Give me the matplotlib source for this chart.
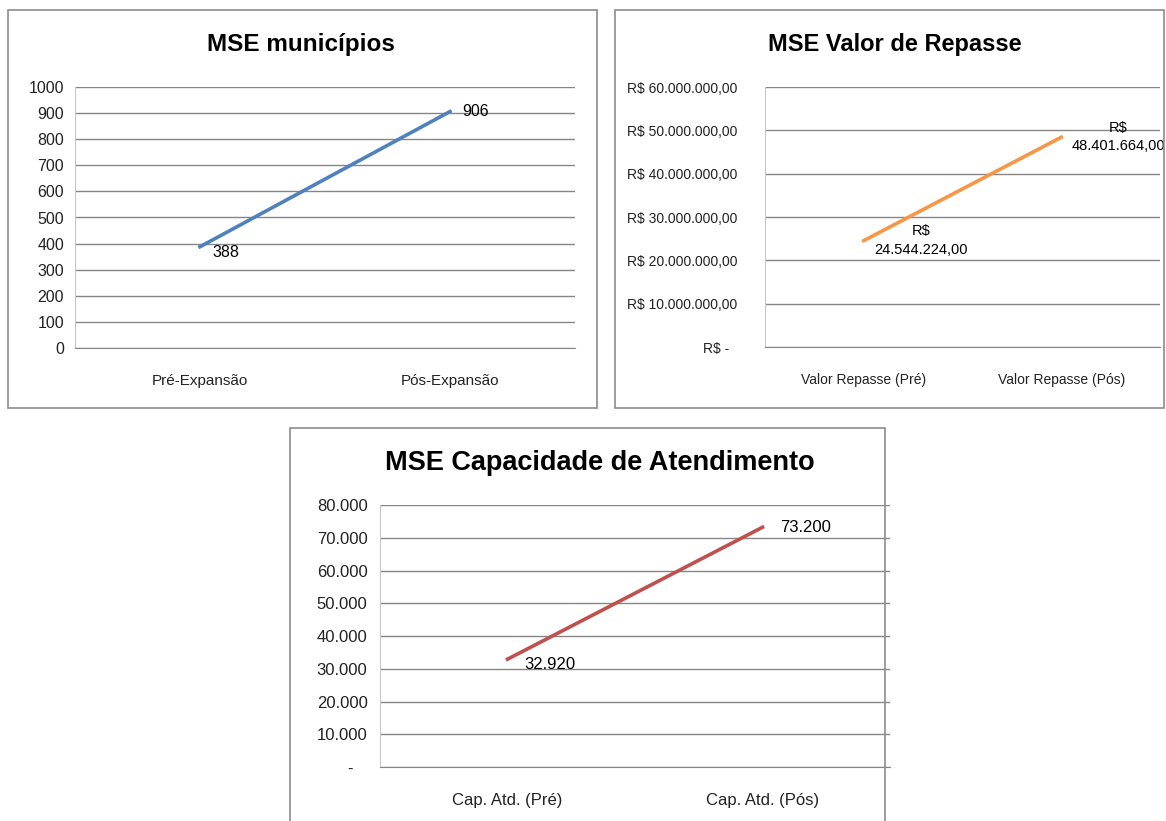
import matplotlib
matplotlib.use('Agg')
import matplotlib.pyplot as plt
from matplotlib.patches import Rectangle

plt.rcParams['font.family'] = ['Liberation Sans', 'DejaVu Sans']

# data
mun_cats = ['Pré-Expansão', 'Pós-Expansão']
mun_vals = [388, 906]
mun_ticks = [0, 100, 200, 300, 400, 500, 600, 700, 800, 900, 1000]

rep_cats = ['Valor Repasse (Pré)', 'Valor Repasse (Pós)']
rep_vals = [24544224.00, 48401664.00]
rep_ticks = [0, 10e6, 20e6, 30e6, 40e6, 50e6, 60e6]

cap_cats = ['Cap. Atd. (Pré)', 'Cap. Atd. (Pós)']
cap_vals = [32920, 73200]
cap_ticks = [0, 10000, 20000, 30000, 40000, 50000, 60000, 70000, 80000]


def br(v, dec=0):
    s = f"{v:,.{dec}f}"
    return s.replace(',', 'X').replace('.', ',').replace('X', '.')


W, H = 1166, 821
fig = plt.figure(figsize=(W / 100, H / 100), dpi=100)


def px(x0, y0, x1, y1):
    return [x0 / W, 1 - y1 / H, (x1 - x0) / W, (y1 - y0) / H]


def border(x0, y0, x1, y1):
    b = px(x0, y0, x1, y1)
    fig.patches.append(Rectangle((b[0], b[1]), b[2], b[3], transform=fig.transFigure,
                                 fill=False, edgecolor='#8c8c8c', lw=1.2))


def setup(ax, ticks, labels, cats, yfs, xfs, ypad):
    ax.set_xlim(-0.5, 1.5)
    ax.set_ylim(ticks[0], ticks[-1])
    ax.set_yticks(ticks)
    ax.set_yticklabels(labels, fontsize=yfs, color='#222222')
    ax.set_xticks([0, 1])
    ax.set_xticklabels(cats, fontsize=xfs, color='#222222')
    ax.tick_params(axis='y', length=0, pad=ypad)
    ax.tick_params(axis='x', length=0, pad=19)
    ax.grid(axis='y', color='#868686', lw=1)
    ax.set_axisbelow(True)
    for s in ['top', 'right']:
        ax.spines[s].set_visible(False)
    ax.spines['left'].set_color('#c8c8c8')
    ax.spines['bottom'].set_color('#868686')


# panel 1
border(8, 10, 597, 408)
ax1 = fig.add_axes(px(75, 87, 575, 348))
setup(ax1, mun_ticks, [str(t) for t in mun_ticks], mun_cats, 11.5, 11, 8)
ax1.plot([0, 1], mun_vals, color='#4F81BD', lw=2.6)
ax1.annotate(str(mun_vals[0]), (0, mun_vals[0]), xytext=(9, -4), textcoords='offset points',
             fontsize=11.5, va='center')
ax1.annotate(str(mun_vals[1]), (1, mun_vals[1]), xytext=(9, 0), textcoords='offset points',
             fontsize=11.5, va='center')
fig.text(301 / W, 1 - 45 / H, 'MSE municípios', fontsize=17.5, fontweight='bold',
         ha='center', va='center')

# panel 2
border(615, 10, 1164, 408)
ax2 = fig.add_axes(px(765, 87, 1160, 347))
rep_labels = ['R$ ' + br(t, 2) for t in rep_ticks]
rep_labels[0] = 'R$ -  '
setup(ax2, rep_ticks, rep_labels, rep_cats, 10, 10, 20)
ax2.plot([0, 1], rep_vals, color='#F79646', lw=2.6)
ax2.annotate('R$\n' + br(rep_vals[0], 2), (0, rep_vals[0]), xytext=(41, 0),
             textcoords='offset points', fontsize=10.5, ha='center', va='center',
             linespacing=1.4)
ax2.annotate('R$\n' + br(rep_vals[1], 2), (1, rep_vals[1]), xytext=(41, 0),
             textcoords='offset points', fontsize=10.5, ha='center', va='center',
             linespacing=1.4)
fig.text(895 / W, 1 - 45 / H, 'MSE Valor de Repasse', fontsize=17, fontweight='bold',
         ha='center', va='center')

# panel 3
border(290, 428, 885, 830)
ax3 = fig.add_axes(px(380, 505, 890, 767))
cap_labels = [br(t) for t in cap_ticks]
cap_labels[0] = '-   '
setup(ax3, cap_ticks, cap_labels, cap_cats, 12, 12, 9)
ax3.plot([0, 1], cap_vals, color='#C0504D', lw=2.6)
ax3.annotate(br(cap_vals[0]), (0, cap_vals[0]), xytext=(12, -4), textcoords='offset points',
             fontsize=12, va='center')
ax3.annotate(br(cap_vals[1]), (1, cap_vals[1]), xytext=(13, 0), textcoords='offset points',
             fontsize=12, va='center')
fig.text(600 / W, 1 - 463 / H, 'MSE Capacidade de Atendimento', fontsize=19.5,
         fontweight='bold', ha='center', va='center')

fig.savefig('out.png', dpi=100, facecolor='white')
